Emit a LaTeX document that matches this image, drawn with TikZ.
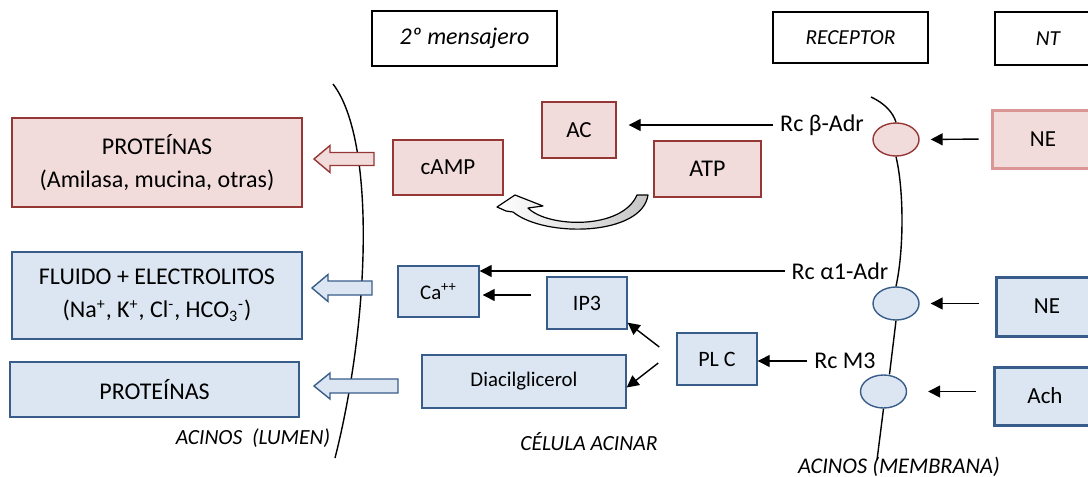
\documentclass[tikz,border=0pt]{standalone}
\usepackage{fontspec}
\setmainfont{Carlito}
\usetikzlibrary{shapes.geometric,arrows.meta}
\definecolor{rojoF}{HTML}{F2DCDB}
\definecolor{rojoB}{HTML}{953735}
\definecolor{rosaB}{HTML}{D99694}
\definecolor{azulF}{HTML}{DCE6F2}
\definecolor{azulB}{HTML}{385D8A}
\begin{document}
\begin{tikzpicture}[x=0.5pt,y=-0.5pt,font=\fontsize{11.5}{16.5}\selectfont,
  rojo/.style={draw=rojoB,fill=rojoF,line width=0.7pt,inner sep=0pt},
  azul/.style={draw=azulB,fill=azulF,line width=0.7pt,inner sep=0pt},
  grande/.style={font=\fontsize{12}{16.5}\selectfont},
  tit/.style={draw,line width=0.6pt,font=\itshape\fontsize{10.7}{12}\selectfont},
  nota/.style={font=\itshape\fontsize{10.8}{12}\selectfont},
  flecha/.style={-{Triangle[length=6pt,width=6pt]},line width=0.7pt},
  rc/.style={ellipse,minimum width=23pt,minimum height=16.5pt,inner sep=0pt,line width=0.7pt}]
\useasboundingbox (0,0) rectangle (1088,477);
% cabecera
\node[tit,minimum width=92.5pt,minimum height=27.5pt,font=\itshape\fontsize{12}{14}\selectfont] (m) at (464.5,38.5) {2º mensajero};
\node[tit,minimum width=77.5pt,minimum height=25.5pt] (r) at (850.5,37.5) {RECEPTOR};
\node[tit,minimum width=53pt,minimum height=26.5pt] (nt) at (1048,38.5) {NT};
% lumen
\node[rojo,grande,minimum width=145pt,minimum height=44.5pt,align=center] (p1) at (157,162.5) {PROTEÍNAS\\(Amilasa, mucina, otras)};
\node[azul,grande,minimum width=145pt,minimum height=43.5pt,align=center] (fl) at (157,295.5) {FLUIDO + ELECTROLITOS\\(Na\textsuperscript{+}, K\textsuperscript{+}, Cl\textsuperscript{-}, HCO\textsubscript{3}\textsuperscript{-})};
\node[azul,grande,minimum width=144.5pt,minimum height=27.5pt] (p2) at (154.5,389.5) {PROTEÍNAS};
% segundo mensajero
\node[rojo,minimum width=55pt,minimum height=27.5pt] (cAMP) at (448,167.5) {cAMP};
\node[rojo,minimum width=37pt,minimum height=28pt] (AC) at (579,130) {AC};
\node[rojo,grande,minimum width=53.5pt,minimum height=28pt] (ATP) at (707.5,169) {ATP};
\node[azul,minimum width=40.5pt,minimum height=25.5pt,font=\fontsize{10.4}{12}\selectfont] (Ca) at (438.5,291.5) {Ca\textsuperscript{++}};
\node[azul,minimum width=40pt,minimum height=26pt,font=\fontsize{11}{12}\selectfont] (IP3) at (587,303) {IP3};
\node[azul,minimum width=40pt,minimum height=26pt,font=\fontsize{11}{12}\selectfont] (PLC) at (717,359) {PL C};
\node[azul,minimum width=102pt,minimum height=26.5pt,font=\fontsize{10.4}{12}\selectfont] (Diacil) at (524,381.5) {Diacilglicerol};
% receptores
\node[rc,draw=rojoB,fill=rojoF] (rb) at (896,139.5) {};
\node[rc,draw=azulB,fill=azulF] (ra) at (896,303.5) {};
\node[rc,draw=azulB,fill=azulF] (rm) at (883.5,391.5) {};
\node[grande] (rcb) at (822,125) {Rc β-Adr};
\node[grande] (rca) at (840,271) {Rc α1-Adr};
\node[grande] (rcm) at (845,361) {Rc M3};
% neurotransmisores
\node[draw=rosaB,fill=rojoF,line width=1.5pt,minimum width=51pt,minimum height=29pt] (NE1) at (1043,139) {NE};
\node[draw=azulB,fill=azulF,line width=1.5pt,minimum width=51pt,minimum height=29.5pt] (NE2) at (1047,306.5) {NE};
\node[draw=azulB,fill=azulF,line width=1.5pt,minimum width=51pt,minimum height=29pt] (Ach) at (1045,396) {Ach};
% membranas
\draw[line width=0.7pt] (333,84) .. controls (376,140) and (370,320) .. (335,458);
\draw[line width=0.7pt] (871,97) .. controls (884,103) and (893,112) .. (rb.north);
\draw[line width=0.7pt] (rb.south) .. controls (904,190) and (904,250) .. (ra.north);
\draw[line width=0.7pt] (ra.south) -- ([xshift=3pt]rm.north);
\draw[line width=0.7pt] (rm.south) -- (877,460);
\node[nota] (lumen) at (253,438) {ACINOS\ \ (LUMEN)};
\node[nota] (celula) at (589,442) {CÉLULA ACINAR};
\node[nota,font=\itshape\fontsize{11.2}{12}\selectfont] (membrana) at (899,467) {ACINOS (MEMBRANA)};
% flechas
\draw[flecha,shorten >=6pt] (rcb.west) -- (rcb.west -| AC.east);
\draw[flecha] (rca.west) -- (rca.west -| Ca.east);
\draw[flecha,shorten <=7.5pt,shorten >=1.5pt] ([yshift=4pt]IP3.west) -- ([yshift=4pt]IP3.west -| Ca.east);
\draw[flecha] ([xshift=-8.5pt,yshift=6pt]PLC.west) -- ([yshift=3.5pt]IP3.south east);
\draw[flecha] ([xshift=-9pt,yshift=-2pt]PLC.west) -- ([yshift=-3pt]Diacil.east);
\draw[flecha] (rcm.west) -- (rcm.west -| PLC.east);
\draw[flecha,shorten <=6pt,shorten >=5.5pt] (NE1.west) -- (rb.east);
\draw[flecha,shorten <=8pt,shorten >=5.5pt] (ra.east -| NE2.west) -- (ra.east);
\draw[flecha,shorten <=8.5pt,shorten >=10.5pt] (rm.east -| Ach.west) -- (rm.east);
% flechas gruesas
\draw[draw=rojoB,fill=rojoF,line width=0.7pt] (374,152.5) -- (330,152.5) -- (330,145.5) -- (314,159) -- (330,172.5) -- (330,165.5) -- (374,165.5) -- cycle;
\draw[azul] (372,281) -- (328,281) -- (328,274.5) -- (312,288) -- (328,301.5) -- (328,295) -- (372,295) -- cycle;
\draw[azul] (398,379) -- (330,379) -- (330,373) -- (314,386) -- (330,399) -- (330,393) -- (398,393) -- cycle;
\draw[left color=white,right color=gray!45,line width=0.6pt,line join=round]
  (497,207) -- (515,195) -- (543,206) -- (528,208)
  .. controls (548,228) and (622,230) .. (637,195) -- (648,195)
  .. controls (642,236) and (545,238) .. (513,212) -- (506,211) -- cycle;
\end{tikzpicture}
\end{document}
